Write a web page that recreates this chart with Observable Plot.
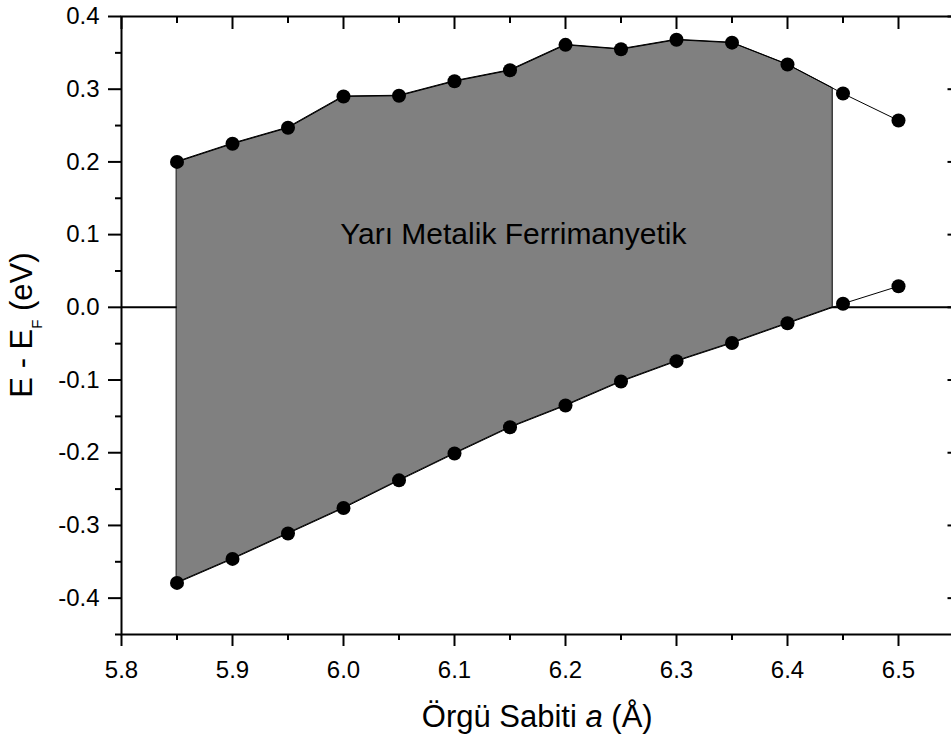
<!DOCTYPE html>
<html>
<head>
<meta charset="utf-8">
<script src="https://cdn.jsdelivr.net/npm/d3@7"></script>
<script src="https://cdn.jsdelivr.net/npm/@observablehq/plot@0.6"></script>
<style>
  html, body { margin: 0; padding: 0; overflow: hidden; background: #fff; }
  #chart svg { display: block; max-width: none !important; }
</style>
</head>
<body>
<div id="chart"></div>
<script>
// Lattice constant a (Å)
const latticeA = [5.85, 5.90, 5.95, 6.00, 6.05, 6.10, 6.15, 6.20, 6.25, 6.30, 6.35, 6.40, 6.45, 6.50];
// Upper band edge E - E_F (eV)
const upperEdge = [0.200, 0.225, 0.247, 0.290, 0.291, 0.311, 0.326, 0.361, 0.355, 0.368, 0.364, 0.334, 0.294, 0.257];
// Lower band edge E - E_F (eV)
const lowerEdge = [-0.379, -0.346, -0.311, -0.276, -0.238, -0.201, -0.165, -0.135, -0.102, -0.074, -0.049, -0.022, 0.005, 0.029];

const xMajorTicks = [5.8, 5.9, 6.0, 6.1, 6.2, 6.3, 6.4, 6.5];
const xMinorTicks = [5.85, 5.95, 6.05, 6.15, 6.25, 6.35, 6.45];
const yMajorTicks = [-0.4, -0.3, -0.2, -0.1, 0.0, 0.1, 0.2, 0.3, 0.4];
const yMinorTicks = [-0.45, -0.35, -0.25, -0.15, -0.05, 0.05, 0.15, 0.25, 0.35];

const annotationText = "Yarı Metalik Ferrimanyetik";
const annotationX = 6.153;
const annotationY = 0.10;

const data = latticeA.map((a, i) => ({a, upper: upperEdge[i], lower: lowerEdge[i]}));

// Half-metallic region: from first point until the lower edge crosses zero
const fillData = [];
for (let i = 0; i < data.length; i++) {
  const d = data[i];
  if (d.lower <= 0) {
    fillData.push(d);
  } else {
    const p = data[i - 1];
    const t = (0 - p.lower) / (d.lower - p.lower);
    fillData.push({
      a: p.a + t * (d.a - p.a),
      lower: 0,
      upper: p.upper + t * (d.upper - p.upper)
    });
    break;
  }
}

const W = 956, H = 735, mL = 121, mR = 2.5, mT = 16, mB = 101;
const font = "'Liberation Sans', Arial, Helvetica, sans-serif";
const fmt = d => d.toFixed(1);

const chart = Plot.plot({
  width: W,
  height: H,
  marginLeft: mL,
  marginRight: mR,
  marginTop: mT,
  marginBottom: mB,
  style: {fontFamily: font, fontSize: "24px", color: "black", background: "white", maxWidth: "none"},
  x: {domain: [5.8, 6.55]},
  y: {domain: [-0.45, 0.4]},
  marks: [
    Plot.ruleY([0], {stroke: "black", strokeWidth: 2}),
    Plot.areaY(fillData, {x: "a", y1: "lower", y2: "upper", fill: "#808080", stroke: "black", strokeWidth: 1}),
    Plot.line(data, {x: "a", y: "upper", stroke: "black", strokeWidth: 1}),
    Plot.line(data, {x: "a", y: "lower", stroke: "black", strokeWidth: 1}),
    Plot.dot(data, {x: "a", y: "upper", r: 7, fill: "black"}),
    Plot.dot(data, {x: "a", y: "lower", r: 7, fill: "black"}),
    Plot.text([annotationText], {x: annotationX, y: annotationY, text: d => d, fontSize: 30, fill: "black", textAnchor: "middle", lineAnchor: "middle"}),
    // bottom axis (outward)
    Plot.axisX({anchor: "bottom", ticks: xMajorTicks, tickSize: 12, tickPadding: 14, tickFormat: fmt, strokeWidth: 2, label: null, fontSize: 24}),
    Plot.axisX({anchor: "bottom", ticks: xMinorTicks, tickSize: 6, tickFormat: () => "", strokeWidth: 2, label: null}),
    // top axis (inward)
    Plot.axisX({anchor: "top", ticks: xMajorTicks, tickSize: 12, dy: 12, tickFormat: () => "", strokeWidth: 2, label: null}),
    Plot.axisX({anchor: "top", ticks: xMinorTicks, tickSize: 6, dy: 6, tickFormat: () => "", strokeWidth: 2, label: null}),
    // left axis (outward)
    Plot.axisY({anchor: "left", ticks: yMajorTicks, tickSize: 13, tickPadding: 9, tickFormat: fmt, strokeWidth: 2, label: null, fontSize: 24}),
    Plot.axisY({anchor: "left", ticks: yMinorTicks, tickSize: 6, tickFormat: () => "", strokeWidth: 2, label: null}),
    // right axis (inward)
    Plot.axisY({anchor: "right", ticks: yMajorTicks, tickSize: 7, dx: -7, tickFormat: () => "", strokeWidth: 2, label: null}),
    Plot.axisY({anchor: "right", ticks: yMinorTicks, tickSize: 3, dx: -3, tickFormat: () => "", strokeWidth: 1, label: null}),
    Plot.frame({stroke: "black", strokeWidth: 2})
  ]
});

const svg = d3.select(chart);

// x axis title with italic "a"
const xt = svg.append("text")
  .attr("x", (mL + W - mR) / 2)
  .attr("y", 727)
  .attr("text-anchor", "middle")
  .attr("font-family", font)
  .attr("font-size", 31)
  .attr("fill", "black");
xt.append("tspan").text("Örgü Sabiti ");
xt.append("tspan").attr("font-style", "italic").text("a");
xt.append("tspan").text(" (Å)");

// y axis title with subscript F
const yt = svg.append("text")
  .attr("transform", `translate(32, ${(mT + H - mB) / 2}) rotate(-90)`)
  .attr("text-anchor", "middle")
  .attr("font-family", font)
  .attr("font-size", 31)
  .attr("fill", "black");
yt.append("tspan").text("E - E");
yt.append("tspan").attr("font-size", 15).attr("dy", 10).text("F");
yt.append("tspan").attr("dy", -10).text(" (eV)");

document.getElementById("chart").appendChild(chart);
</script>
</body>
</html>
